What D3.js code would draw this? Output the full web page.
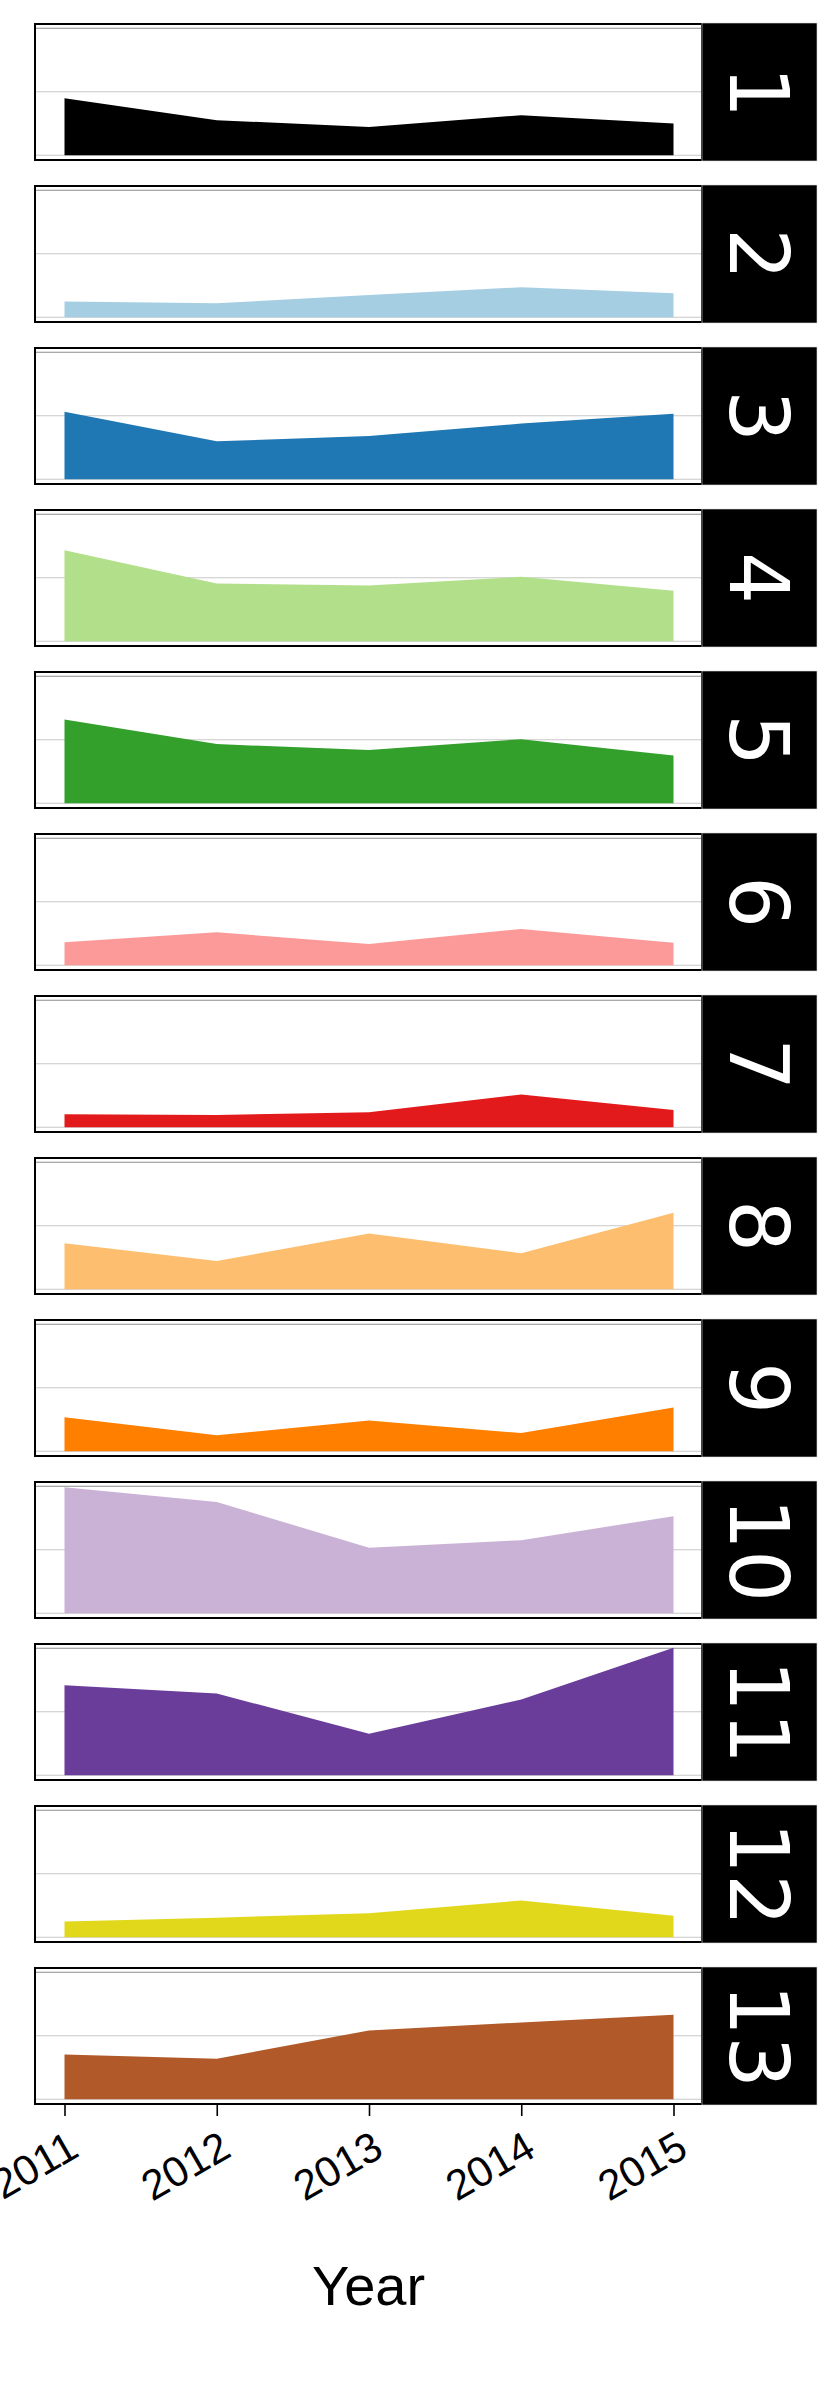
<!DOCTYPE html>
<html>
<head>
<meta charset="utf-8">
<script src="https://cdn.jsdelivr.net/npm/d3@7"></script>
<style>
  html, body { margin: 0; padding: 0; background: #ffffff; }
  svg { display: block; }
</style>
</head>
<body>
<svg id="chart" width="840" height="2400"></svg>
<script>
// ---- data ----
const years = [2011, 2012, 2013, 2014, 2015];
const yearLabels = ["2011", "2012", "2013", "2014", "2015"];
const panelLabels = ["1","2","3","4","5","6","7","8","9","10","11","12","13"];
const colors = ["#000000","#a6cee3","#1f78b4","#b2df8a","#33a02c","#fb9a99",
                "#e31a1c","#fdbf6f","#ff7f00","#cab2d6","#6a3d9a","#e1d81c","#b15928"];
const gridValues = [0, 1, 2];

const v1  = [0.90, 0.553, 0.447, 0.632, 0.50];
const v2  = [0.247, 0.221, 0.35, 0.474, 0.379];
const v3  = [1.065, 0.60, 0.68, 0.877, 1.034];
const v4  = [1.434, 0.911, 0.88, 1.016, 0.796];
const v5  = [1.319, 0.932, 0.838, 1.01, 0.754];
const v6  = [0.362, 0.52, 0.336, 0.572, 0.357];
const v7  = [0.204, 0.194, 0.236, 0.518, 0.272];
const v8  = [0.724, 0.446, 0.877, 0.567, 1.207];
const v9  = [0.538, 0.251, 0.486, 0.287, 0.689];
const v10 = [1.984, 1.754, 1.031, 1.152, 1.529];
const v11 = [1.419, 1.288, 0.654, 1.194, 2.01];
const v12 = [0.248, 0.308, 0.38, 0.58, 0.338];
const v13 = [0.705, 0.639, 1.084, 1.21, 1.331];
const seriesValues = [v1,v2,v3,v4,v5,v6,v7,v8,v9,v10,v11,v12,v13];

// ---- layout ----
const plotLeft = 35, plotRight = 702, stripRight = 817;
const firstTop = 23, panelStep = 162, panelH = 138;

const svg = d3.select("#chart");

const x = d3.scaleLinear().domain([2011, 2015]).range([64.5, 673.5]);
// local panel y (0 at panel top)
const y = d3.scaleLinear().domain([0, 2]).range([132.3, 5.3]);

const area = d3.area()
  .x((d, i) => x(years[i]))
  .y0(y(0))
  .y1(d => y(d));

seriesValues.forEach((vals, i) => {
  const top = firstTop + i * panelStep;
  const g = svg.append("g").attr("transform", `translate(0,${top})`);

  g.append("rect")
    .attr("x", plotLeft).attr("y", 0)
    .attr("width", plotRight - plotLeft).attr("height", panelH)
    .attr("fill", "#ffffff");

  g.selectAll("line.grid").data(gridValues).enter().append("line")
    .attr("class", "grid")
    .attr("x1", plotLeft).attr("x2", plotRight)
    .attr("y1", d => y(d)).attr("y2", d => y(d))
    .attr("stroke", d => d === 2 ? "#8c8c8c" : "#c8c8c8")
    .attr("stroke-width", 1.1);

  g.append("path")
    .datum(vals)
    .attr("d", area)
    .attr("fill", colors[i]);

  g.append("rect")
    .attr("x", plotLeft).attr("y", 1)
    .attr("width", plotRight - plotLeft).attr("height", panelH - 2)
    .attr("fill", "none")
    .attr("stroke", "#000000")
    .attr("stroke-width", 2);

  g.append("rect")
    .attr("x", plotRight).attr("y", 0)
    .attr("width", stripRight - plotRight).attr("height", panelH)
    .attr("fill", "#000000")
    .attr("stroke", "#d9d9d9")
    .attr("stroke-width", 0.6);

  const cx = (plotRight + stripRight) / 2;
  const cy = panelH / 2;
  g.append("text")
    .attr("transform", `translate(${cx},${cy}) rotate(90)`)
    .attr("text-anchor", "middle")
    .attr("dy", "0.36em")
    .attr("fill", "#ffffff")
    .style("font-family", "'DejaVu Sans', sans-serif")
    .style("font-size", "82px")
    .text(panelLabels[i]);
});

// ---- x axis under the last panel ----
const lastBottom = firstTop + (panelLabels.length - 1) * panelStep + panelH;
const axisG = svg.append("g").attr("transform", `translate(0,${lastBottom})`);

const xAxis = d3.axisBottom(x)
  .tickValues(years)
  .tickFormat((d, i) => yearLabels[i])
  .tickSize(11)
  .tickSizeOuter(0);

axisG.call(xAxis);
axisG.select(".domain").remove();
axisG.selectAll(".tick line").attr("stroke", "#000000").attr("stroke-width", 1.6);
axisG.selectAll(".tick text")
  .attr("fill", "#000000")
  .style("font-family", "'Liberation Sans', Arial, sans-serif")
  .style("font-size", "42px")
  .attr("text-anchor", "end")
  .attr("dy", null)
  .attr("y", null)
  .attr("transform", "translate(16,50) rotate(-30)");

svg.append("text")
  .attr("x", (plotLeft + plotRight) / 2)
  .attr("y", 2305)
  .attr("text-anchor", "middle")
  .attr("fill", "#000000")
  .style("font-family", "'Liberation Sans', Arial, sans-serif")
  .style("font-size", "56px")
  .text("Year");
</script>
</body>
</html>
